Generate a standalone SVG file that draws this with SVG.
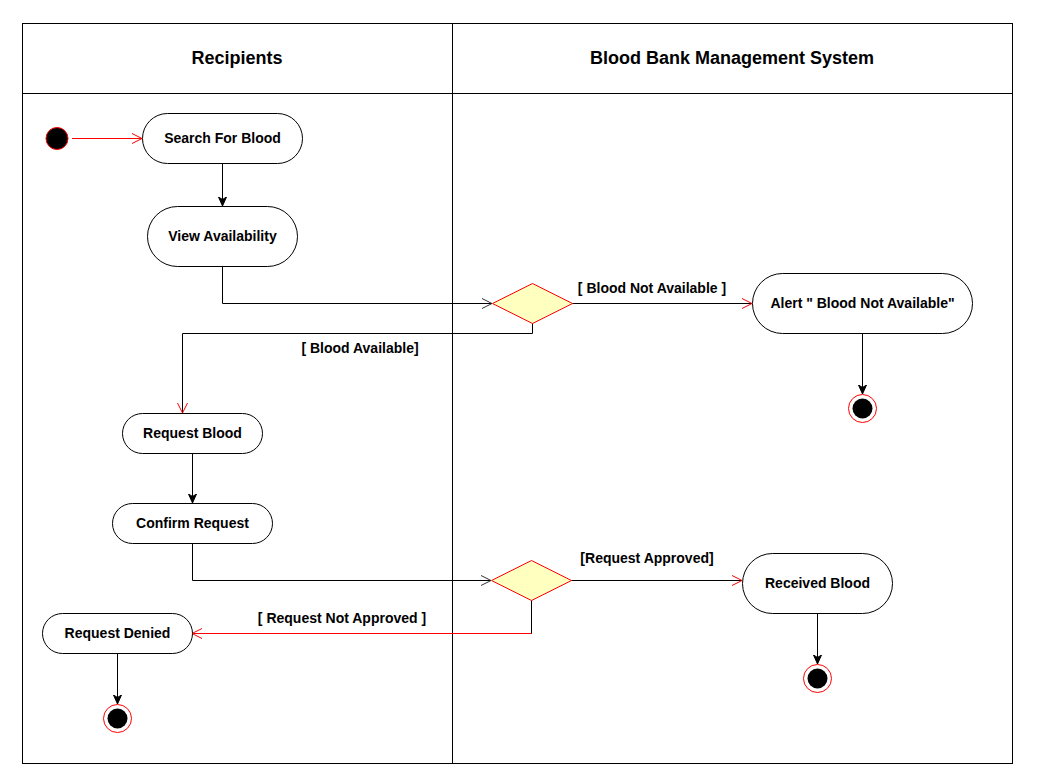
<svg xmlns="http://www.w3.org/2000/svg" width="1039" height="771" viewBox="0 0 1039 771">
<defs>
<style>
.frame{fill:none;stroke:#000;stroke-width:1}
.act{fill:#fff;stroke:#000;stroke-width:1}
.dec{fill:#ffffc0;stroke:#ff0000;stroke-width:1}
.t{font-family:"Liberation Sans",Arial,sans-serif;font-weight:bold;font-size:14px;fill:#000;text-anchor:middle}
.h{font-family:"Liberation Sans",Arial,sans-serif;font-weight:bold;font-size:18px;fill:#000;text-anchor:middle}
.lk{fill:none;stroke:#000;stroke-width:1}
.lr{fill:none;stroke:#ff0000;stroke-width:1}
</style>
<marker id="fa" viewBox="0 0 10 10" refX="9" refY="5" markerWidth="10" markerHeight="10" markerUnits="userSpaceOnUse" orient="auto"><path d="M0,1 L9,5 L0,9 L2.5,5 Z" fill="#000" stroke="#000" stroke-width="1"/></marker>
<marker id="or" viewBox="0 0 12 12" refX="11" refY="6" markerWidth="12" markerHeight="12" markerUnits="userSpaceOnUse" orient="auto"><path d="M1,1 L11,6 L1,11" fill="none" stroke="#ff0000" stroke-width="1"/></marker>
<marker id="ok" viewBox="0 0 12 12" refX="11" refY="6" markerWidth="12" markerHeight="12" markerUnits="userSpaceOnUse" orient="auto"><path d="M1,1 L11,6 L1,11" fill="none" stroke="#333" stroke-width="1"/></marker>
</defs>
<rect width="1039" height="771" fill="#fff"/>
<g id="swimlanes">
<rect class="frame" x="22.5" y="23.5" width="990" height="740"/>
<line class="frame" x1="22.5" y1="93.5" x2="1012.5" y2="93.5"/>
<line class="frame" x1="452.5" y1="23.5" x2="452.5" y2="763.5"/>
<text class="h" x="237" y="64">Recipients</text>
<text class="h" x="732" y="64">Blood Bank Management System</text>
</g>
<g id="connectors">
<line class="lr" x1="72" y1="138.5" x2="142" y2="138.5" marker-end="url(#or)"/>
<line class="lk" x1="222.5" y1="163" x2="222.5" y2="206" marker-end="url(#fa)"/>
<polyline class="lk" points="222.5,266 222.5,303.5 492,303.5" marker-end="url(#ok)"/>
<line class="lk" x1="572" y1="303.5" x2="752" y2="303.5" marker-end="url(#or)"/>
<text class="t" x="652" y="293">[ Blood Not Available ]</text>
<line class="lk" x1="862.5" y1="333" x2="862.5" y2="394" marker-end="url(#fa)"/>
<polyline class="lk" points="532.5,323 532.5,333.5 182.5,333.5 182.5,413" marker-end="url(#or)"/>
<text class="t" x="360" y="353">[ Blood Available]</text>
<line class="lk" x1="192.5" y1="453" x2="192.5" y2="503" marker-end="url(#fa)"/>
<polyline class="lk" points="192.5,543 192.5,580.5 491,580.5" marker-end="url(#ok)"/>
<line class="lk" x1="571" y1="580.5" x2="742" y2="580.5" marker-end="url(#or)"/>
<text class="t" x="647" y="563">[Request Approved]</text>
<line class="lk" x1="817.5" y1="613" x2="817.5" y2="664" marker-end="url(#fa)"/>
<polyline class="lr" points="531.5,600 531.5,633.5 192,633.5" marker-end="url(#or)"/>
<polyline class="lk" points="531.5,600 531.5,633.5"/>
<text class="t" x="342" y="623">[ Request Not Approved ]</text>
<line class="lk" x1="117.5" y1="653" x2="117.5" y2="704" marker-end="url(#fa)"/>
</g>
<g id="start">
<circle cx="57" cy="138.5" r="11" fill="#000" stroke="#ff0000" stroke-width="1"/>
</g>
<g id="search-for-blood">
<rect class="act" x="142.5" y="113.5" width="160" height="50" rx="25"/>
<text class="t" x="222.5" y="143">Search For Blood</text>
</g>
<g id="view-availability">
<rect class="act" x="147.5" y="206.5" width="150" height="60" rx="30"/>
<text class="t" x="222.5" y="241">View Availability</text>
</g>
<g id="decision-availability">
<polygon class="dec" points="492.5,303.5 532.5,283.5 572.5,303.5 532.5,323.5"/>
</g>
<g id="alert-not-available">
<rect class="act" x="752.5" y="273.5" width="220" height="60" rx="30"/>
<text class="t" x="862.5" y="308">Alert " Blood Not Available"</text>
</g>
<g id="end-alert">
<circle cx="862.5" cy="408.5" r="14" fill="#fff" stroke="#ff0000" stroke-width="1"/>
<circle cx="862.5" cy="408.5" r="10" fill="#000"/>
</g>
<g id="request-blood">
<rect class="act" x="122.5" y="413.5" width="140" height="40" rx="20"/>
<text class="t" x="192.5" y="438">Request Blood</text>
</g>
<g id="confirm-request">
<rect class="act" x="112.5" y="503.5" width="160" height="40" rx="20"/>
<text class="t" x="192.5" y="528">Confirm Request</text>
</g>
<g id="decision-approval">
<polygon class="dec" points="491.5,580.5 531.5,560.5 571.5,580.5 531.5,600.5"/>
</g>
<g id="received-blood">
<rect class="act" x="742.5" y="553.5" width="150" height="60" rx="30"/>
<text class="t" x="817.5" y="588">Received Blood</text>
</g>
<g id="end-received">
<circle cx="817.5" cy="678.5" r="14" fill="#fff" stroke="#ff0000" stroke-width="1"/>
<circle cx="817.5" cy="678.5" r="10" fill="#000"/>
</g>
<g id="request-denied">
<rect class="act" x="42.5" y="613.5" width="150" height="40" rx="20"/>
<text class="t" x="117.5" y="638">Request Denied</text>
</g>
<g id="end-denied">
<circle cx="117.5" cy="718.5" r="14" fill="#fff" stroke="#ff0000" stroke-width="1"/>
<circle cx="117.5" cy="718.5" r="10" fill="#000"/>
</g>
</svg>
